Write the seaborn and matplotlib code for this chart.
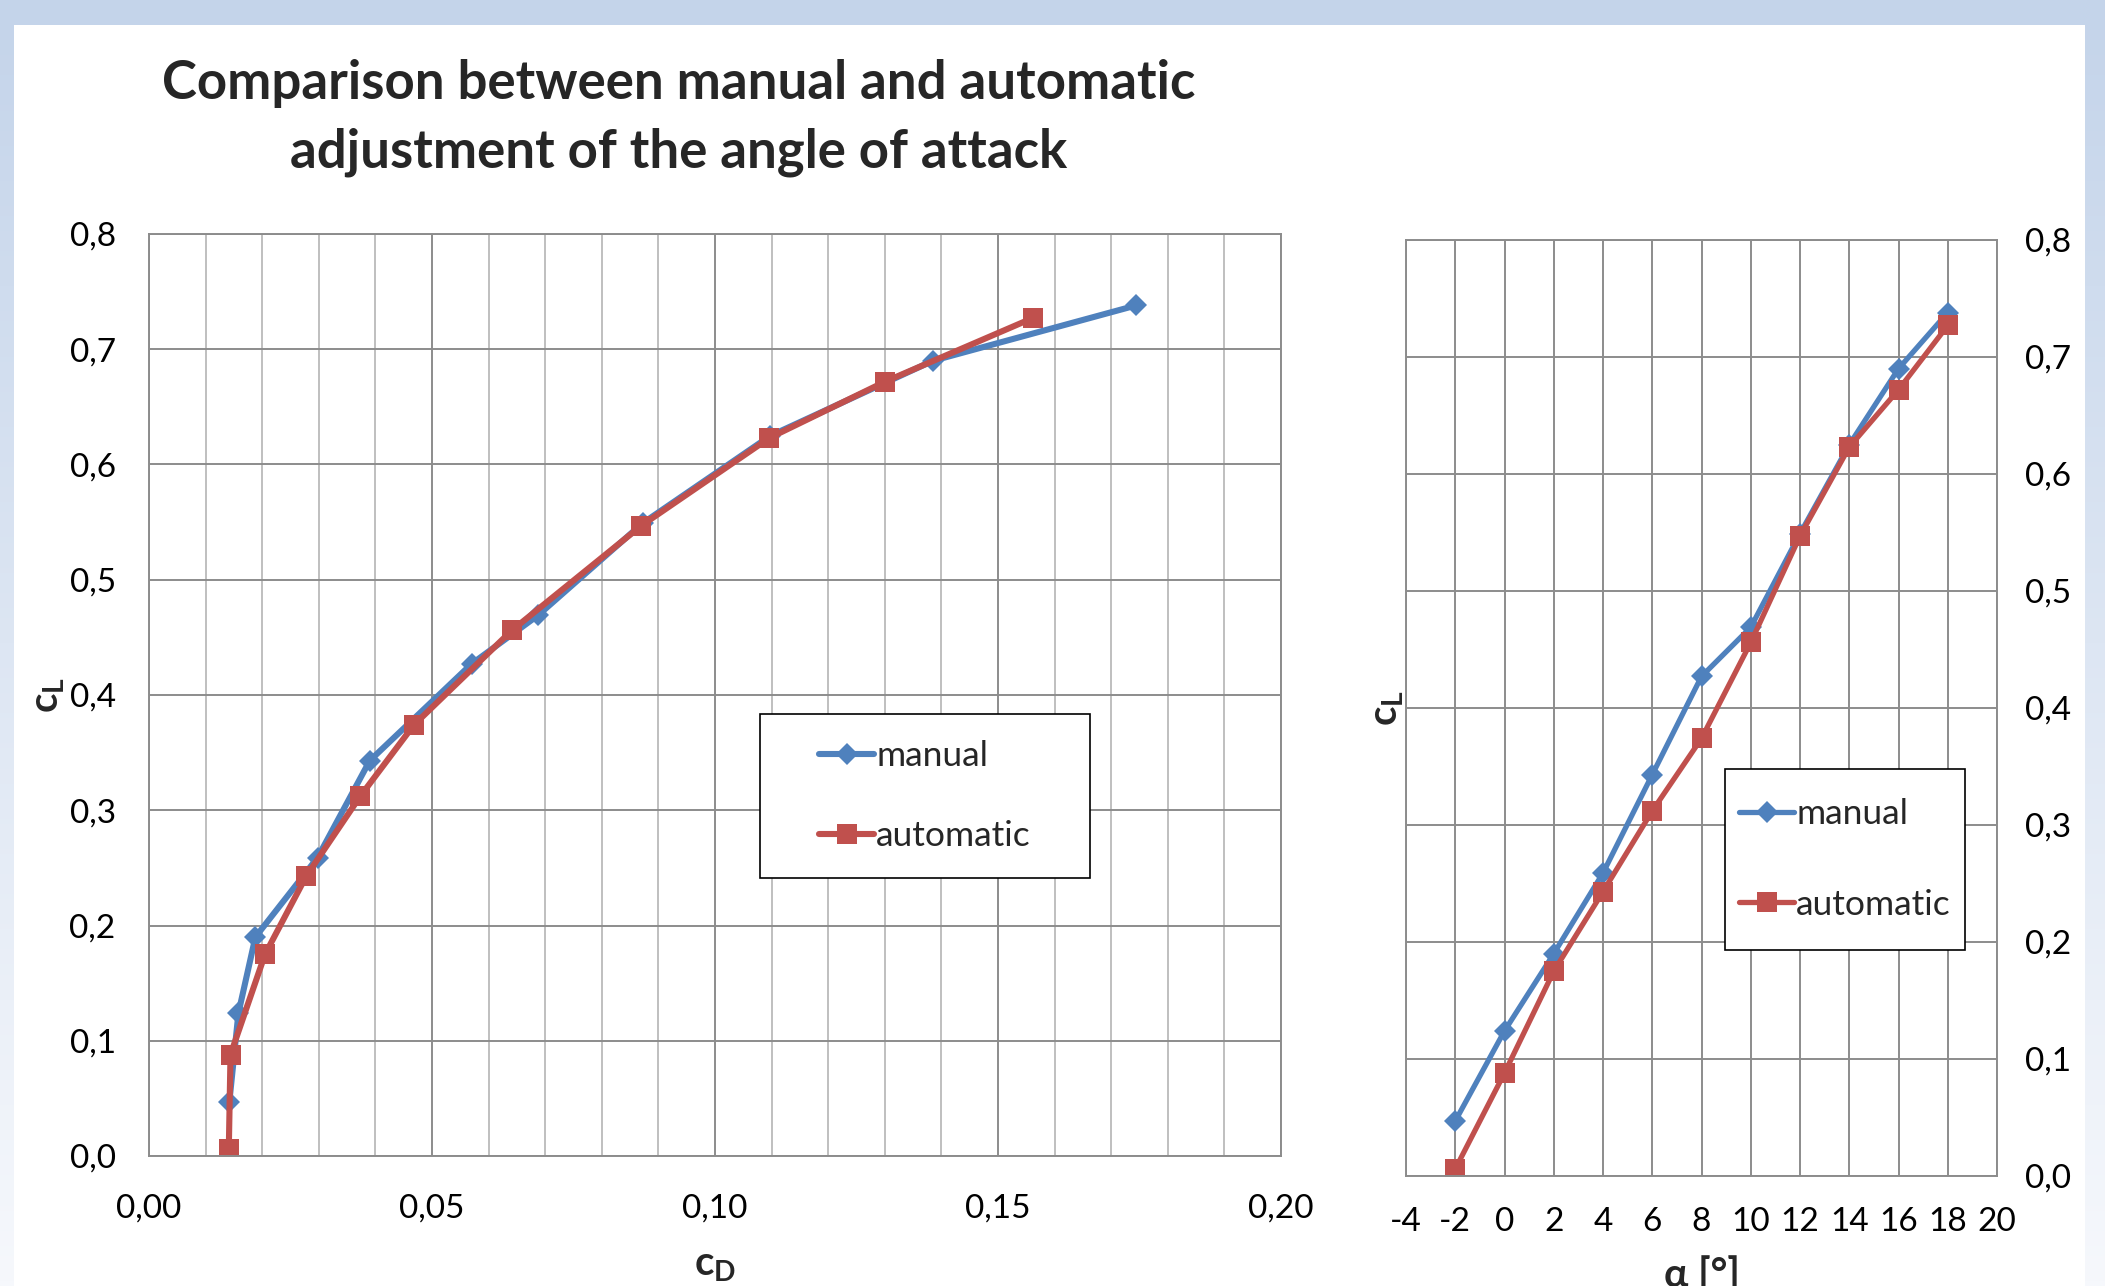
import numpy as np
import seaborn as sns
import matplotlib.pyplot as plt
from matplotlib.patches import Rectangle
from matplotlib.ticker import MultipleLocator, FuncFormatter

# values
alpha = [-2, 0, 2, 4, 6, 8, 10, 12, 14, 16, 18]
cl_manual = [0.047, 0.124, 0.190, 0.259, 0.343, 0.427, 0.469, 0.549, 0.625, 0.690, 0.738]
cl_auto = [0.006, 0.088, 0.175, 0.243, 0.312, 0.374, 0.456, 0.547, 0.623, 0.672, 0.727]
cd_manual = [0.0142, 0.0158, 0.0188, 0.0298, 0.0390, 0.0570, 0.0687, 0.0872, 0.1098, 0.1385, 0.1744]
cd_auto = [0.0141, 0.0144, 0.0205, 0.0278, 0.0373, 0.0468, 0.0641, 0.0870, 0.1096, 0.1301, 0.1561]
series_names = ['manual', 'automatic']

BLUE = '#4F81BD'
RED = '#C0504D'
GRID = '#8c8c8c'
FONTS = ['Lato', 'DejaVu Sans']

sns.set_theme(style='white')
plt.rcParams['font.family'] = FONTS
plt.rcParams['mathtext.fontset'] = 'custom'
plt.rcParams['mathtext.bf'] = 'Lato:bold'
plt.rcParams['mathtext.rm'] = 'Lato'

W, H = 2105, 1286
fig = plt.figure(figsize=(W / 100, H / 100), dpi=100)

# light blue slide background with white card
bg = fig.add_axes([0, 0, 1, 1], zorder=-10)
top = np.array([196, 212, 234]) / 255
bot = np.array([246, 248, 252]) / 255
t = np.linspace(0, 1, 256)[:, None]
grad = top[None, :] * (1 - t) + bot[None, :] * t
bg.imshow(grad[:, None, :], aspect='auto', extent=[0, 1, 0, 1])
bg.add_patch(Rectangle((14 / W, 0), (2085 - 14) / W, (H - 25) / H, color='white', lw=0))
bg.set_xlim(0, 1)
bg.set_ylim(0, 1)
bg.axis('off')

ax1 = fig.add_axes([149 / W, 1 - 1156 / H, (1281 - 149) / W, (1156 - 234) / H])
ax2 = fig.add_axes([1406 / W, 1 - 1176 / H, (1997 - 1406) / W, (1176 - 240) / H])

line_kw = dict(sort=False, estimator=None, markeredgewidth=0)
sns.lineplot(x=cd_manual, y=cl_manual, ax=ax1, color=BLUE, lw=4.4, marker='D',
             markersize=11.5, label=series_names[0], **line_kw)
sns.lineplot(x=cd_auto, y=cl_auto, ax=ax1, color=RED, lw=4.4, marker='s',
             markersize=15, label=series_names[1], **line_kw)
sns.lineplot(x=alpha, y=cl_manual, ax=ax2, color=BLUE, lw=3.8, marker='D',
             markersize=11.5, label=series_names[0], **line_kw)
sns.lineplot(x=alpha, y=cl_auto, ax=ax2, color=RED, lw=3.8, marker='s',
             markersize=15, label=series_names[1], **line_kw)

comma1 = FuncFormatter(lambda v, p: f'{v:.1f}'.replace('.', ','))
comma2 = FuncFormatter(lambda v, p: f'{v:.2f}'.replace('.', ','))
intfmt = FuncFormatter(lambda v, p: f'{v:.0f}')

for ax in (ax1, ax2):
    ax.set_facecolor('white')
    ax.set_axisbelow(True)
    ax.set_ylim(0, 0.8)
    ax.yaxis.set_major_locator(MultipleLocator(0.1))
    ax.yaxis.set_major_formatter(comma1)
    ax.tick_params(which='both', length=0, labelsize=24, colors='black')
    for s in ax.spines.values():
        s.set_color(GRID)
        s.set_linewidth(1.4)

ax1.set_xlim(0, 0.2)
ax1.xaxis.set_major_locator(MultipleLocator(0.05))
ax1.xaxis.set_minor_locator(MultipleLocator(0.01))
ax1.xaxis.set_major_formatter(comma2)
ax1.grid(which='minor', axis='x', color='#bfbfbf', lw=1.4)
ax1.grid(which='major', color=GRID, lw=1.4)
ax1.tick_params(axis='x', pad=27)
ax1.tick_params(axis='y', pad=24)
ax1.set_xlabel(r'$\mathbf{c_D}$', fontsize=29, labelpad=17)
ax1.set_ylabel(r'$\mathbf{c_L}$', fontsize=29, labelpad=2)

ax2.set_xlim(-4, 20)
ax2.xaxis.set_major_locator(MultipleLocator(2))
ax2.xaxis.set_major_formatter(intfmt)
ax2.grid(which='major', color=GRID, lw=1.4)
ax2.yaxis.tick_right()
ax2.yaxis.set_label_position('left')
ax2.tick_params(axis='x', pad=22)
ax2.tick_params(axis='y', pad=20)
ax2.set_xlabel('α [°]', fontsize=29, fontweight='bold', labelpad=14)
ax2.set_ylabel(r'$\mathbf{c_L}$', fontsize=29, labelpad=0)

# legends with Excel-like square boxes
boxes = [(ax1, (760, 714, 1090, 878), 1.35), (ax2, (1725, 769, 1965, 950), 1.65)]
for ax, (x0, y0, x1, y1), spacing in boxes:
    leg = ax.legend(loc='center', bbox_to_anchor=((x0 + x1) / 2 / W, 1 - (y0 + y1) / 2 / H),
                    bbox_transform=fig.transFigure, frameon=False, fontsize=25.5,
                    handlelength=1.55, handletextpad=0.05, labelspacing=spacing, numpoints=1)
    leg.set_zorder(6)
    ax.add_artist(Rectangle((x0 / W, 1 - y1 / H), (x1 - x0) / W, (y1 - y0) / H,
                            transform=fig.transFigure, facecolor='white', clip_on=False,
                            edgecolor='black', lw=1.2, zorder=5))

fig.text(679 / W, 1 - 118 / H, 'Comparison between manual and automatic\nadjustment of the angle of attack',
         ha='center', va='center', fontsize=38, fontweight='bold', linespacing=1.5)

fig.savefig('out.png', dpi=100)
